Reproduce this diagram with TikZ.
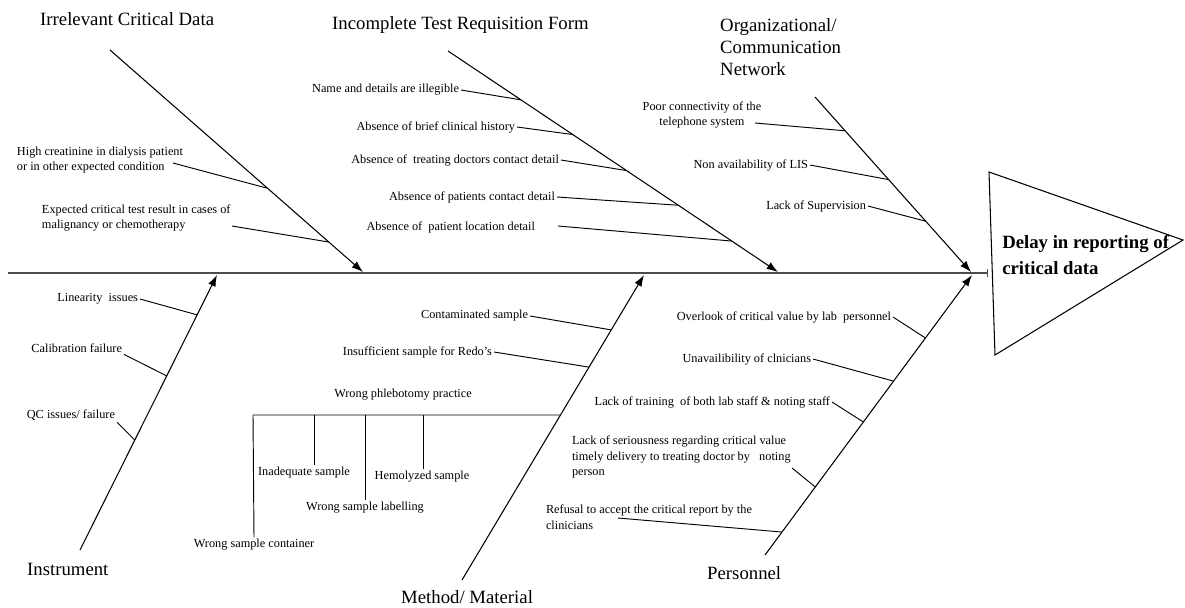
\documentclass[tikz,border=0pt]{standalone}
\usepackage{fontspec}
\setmainfont{Liberation Serif}
\usepackage{tikz}
\usetikzlibrary{calc,arrows.meta}
\tikzset{
  spine/.style={draw=black!70, line width=1.6pt, -{Bar[width=2.6mm,line width=1pt]}},
  bone/.style={draw=black, line width=0.9pt, -{Latex[length=3.4mm,width=2.4mm]}},
  twig/.style={draw=black, line width=0.8pt},
  head/.style={draw=black, line width=0.9pt},
  cause/.style={font=\fontsize{16}{19}\selectfont, inner sep=0pt, align=left},
  lab/.style={font=\fontsize{10.5}{13.5}\selectfont, inner sep=1.5pt},
  effectlab/.style={font=\fontsize{16}{23}\selectfont\bfseries, inner sep=0pt, align=left}
}

\begin{document}
\begin{tikzpicture}[x=0.03cm, y=-0.03cm]
  \useasboundingbox (0,0) rectangle (1185,607);

  % spine and head
  \coordinate (tail) at (8,273);
  \coordinate (neck) at (988,273);
  \coordinate (hA) at (989,172);
  \coordinate (hB) at (1183,240);
  \coordinate (hC) at (995,355);

  % main bones
  \coordinate (I1) at (110,50);  \coordinate (I2) at (363,272);
  \coordinate (R1) at (448,51);  \coordinate (R2) at (778,272);
  \coordinate (O1) at (815,97);  \coordinate (O2) at (971,272);
  \coordinate (N1) at (80,550);  \coordinate (N2) at (217,275);
  \coordinate (M1) at (462,580); \coordinate (M2) at (644,275);
  \coordinate (P1) at (765,555); \coordinate (P2) at (972,275);

  \draw[spine] (tail) -- (neck);
  \draw[head] (hA) -- (hB) -- (hC) -- cycle;
  \node[effectlab, anchor=west] (effect) at (1002,255) {Delay in reporting of\\critical data};

  \draw[bone] (I1) -- (I2);
  \draw[bone] (R1) -- (R2);
  \draw[bone] (O1) -- (O2);
  \draw[bone] (N1) -- (N2);
  \draw[bone] (M1) -- (M2);
  \draw[bone] (P1) -- (P2);

  % cause titles
  \node[cause, anchor=west] (T1) at (40,19) {Irrelevant Critical Data};
  \node[cause, anchor=west] (T2) at (332,25) {Incomplete Test Requisition Form};
  \node[cause, anchor=west] (T3) at (720,47) {Organizational/\\Communication\\Network};
  \node[cause, anchor=west] (T4) at (27,569) {Instrument};
  \node[cause, anchor=west] (T5) at (401,597) {Method/ Material};
  \node[cause, anchor=west] (T6) at (707,573) {Personnel};

  % irrelevant critical data
  \node[lab, anchor=west, align=left] (a1) at (15,160) {High creatinine in dialysis patient\\or in other expected condition};
  \node[lab, anchor=west, align=left] (a2) at (40,218) {Expected critical test result in cases of\\malignancy or chemotherapy};
  \coordinate (a1s) at (173,163);
  \coordinate (a2s) at (232,226);
  \draw[twig] (a1s) -- ($(I1)!0.623!(I2)$);
  \draw[twig] (a2s) -- ($(I1)!0.865!(I2)$);

  % requisition form
  \node[lab, anchor=east] (b1) at (461,90) {Name and details are illegible};
  \node[lab, anchor=east] (b2) at (517,127) {Absence of brief clinical history};
  \node[lab, anchor=east] (b3) at (561,160) {Absence of\ \ treating doctors contact detail};
  \node[lab, anchor=east] (b4) at (557,197) {Absence of patients contact detail};
  \node[lab, anchor=east] (b5) at (537,227) {Absence of\ \ patient location detail};
  \coordinate (b5s) at (558,226);
  \draw[twig] (b1.east) -- ($(R1)!0.221!(R2)$);
  \draw[twig] (b2.east) -- ($(R1)!0.378!(R2)$);
  \draw[twig] (b3.east) -- ($(R1)!0.541!(R2)$);
  \draw[twig] (b4.east) -- ($(R1)!0.698!(R2)$);
  \draw[twig] (b5s) -- ($(R1)!0.860!(R2)$);

  % organizational network
  \node[lab, align=center] (c1) at (702,115) {Poor connectivity of the\\telephone system};
  \node[lab, anchor=east] (c2) at (810,165) {Non availability of LIS};
  \node[lab, anchor=east] (c3) at (868,206) {Lack of Supervision};
  \coordinate (c1s) at (755,123);
  \draw[twig] (c1s) -- ($(O1)!0.193!(O2)$);
  \draw[twig] (c2.east) -- ($(O1)!0.472!(O2)$);
  \draw[twig] (c3.east) -- ($(O1)!0.710!(O2)$);

  % instrument
  \node[lab, anchor=east] (d1) at (140,299) {Linearity\ \ issues};
  \node[lab, anchor=east] (d2) at (124,348) {Calibration failure};
  \node[lab, anchor=east] (d3) at (117,415) {QC issues/ failure};
  \draw[twig] (d1.east) -- ($(N1)!0.855!(N2)$);
  \draw[twig] (d2.south east) -- ($(N1)!0.633!(N2)$);
  \draw[twig] (d3.south east) -- ($(N1)!0.400!(N2)$);

  % method / material
  \node[lab, anchor=east] (e1) at (530,316) {Contaminated sample};
  \node[lab, anchor=east] (e2) at (494,352) {Insufficient sample for Redo’s};
  \node[lab] (e3) at (403,395) {Wrong phlebotomy practice};
  \node[lab] (e4) at (254,545) {Wrong sample container};
  \node[lab] (e5) at (304,473) {Inadequate sample};
  \node[lab] (e6) at (365,508) {Wrong sample labelling};
  \node[lab] (e7) at (422,477) {Hemolyzed sample};
  \draw[twig] (e1.east) -- ($(M1)!0.820!(M2)$);
  \draw[twig] (e2.east) -- ($(M1)!0.698!(M2)$);
  \coordinate (wp) at (253,415);
  \coordinate (p1) at (314,415);
  \coordinate (p2) at (365,415);
  \coordinate (p3) at (423,415);
  \draw[twig] (wp) -- ($(M1)!0.541!(M2)$);
  \draw[twig] (wp) -- (e4.north);
  \draw[twig] (p1) -- (p1 |- e5.north);
  \draw[twig] (p2) -- (p2 |- e6.north);
  \draw[twig] (p3) -- (p3 |- e7.north);

  % personnel
  \node[lab, anchor=east] (f1) at (893,317) {Overlook of critical value by lab\ \ personnel};
  \node[lab, anchor=east] (f2) at (813,359) {Unavailibility of clnicians};
  \node[lab, anchor=east] (f3) at (832,402) {Lack of training\ \ of both lab staff \& noting staff};
  \node[lab, anchor=west, align=left] (f4) at (570,457) {Lack of seriousness regarding critical value\\timely delivery to treating doctor by\ \ \ noting\\person};
  \node[lab, anchor=west, align=left] (f5) at (544,517) {Refusal to accept the critical report by the\\clinicians};
  \coordinate (f4s) at (792,468);
  \coordinate (f5s) at (618,518);
  \draw[twig] (f1.east) -- ($(P1)!0.775!(P2)$);
  \draw[twig] (f2.east) -- ($(P1)!0.621!(P2)$);
  \draw[twig] (f3.east) -- ($(P1)!0.475!(P2)$);
  \draw[twig] (f4s) -- ($(P1)!0.243!(P2)$);
  \draw[twig] (f5s) -- ($(P1)!0.082!(P2)$);
\end{tikzpicture}
\end{document}
